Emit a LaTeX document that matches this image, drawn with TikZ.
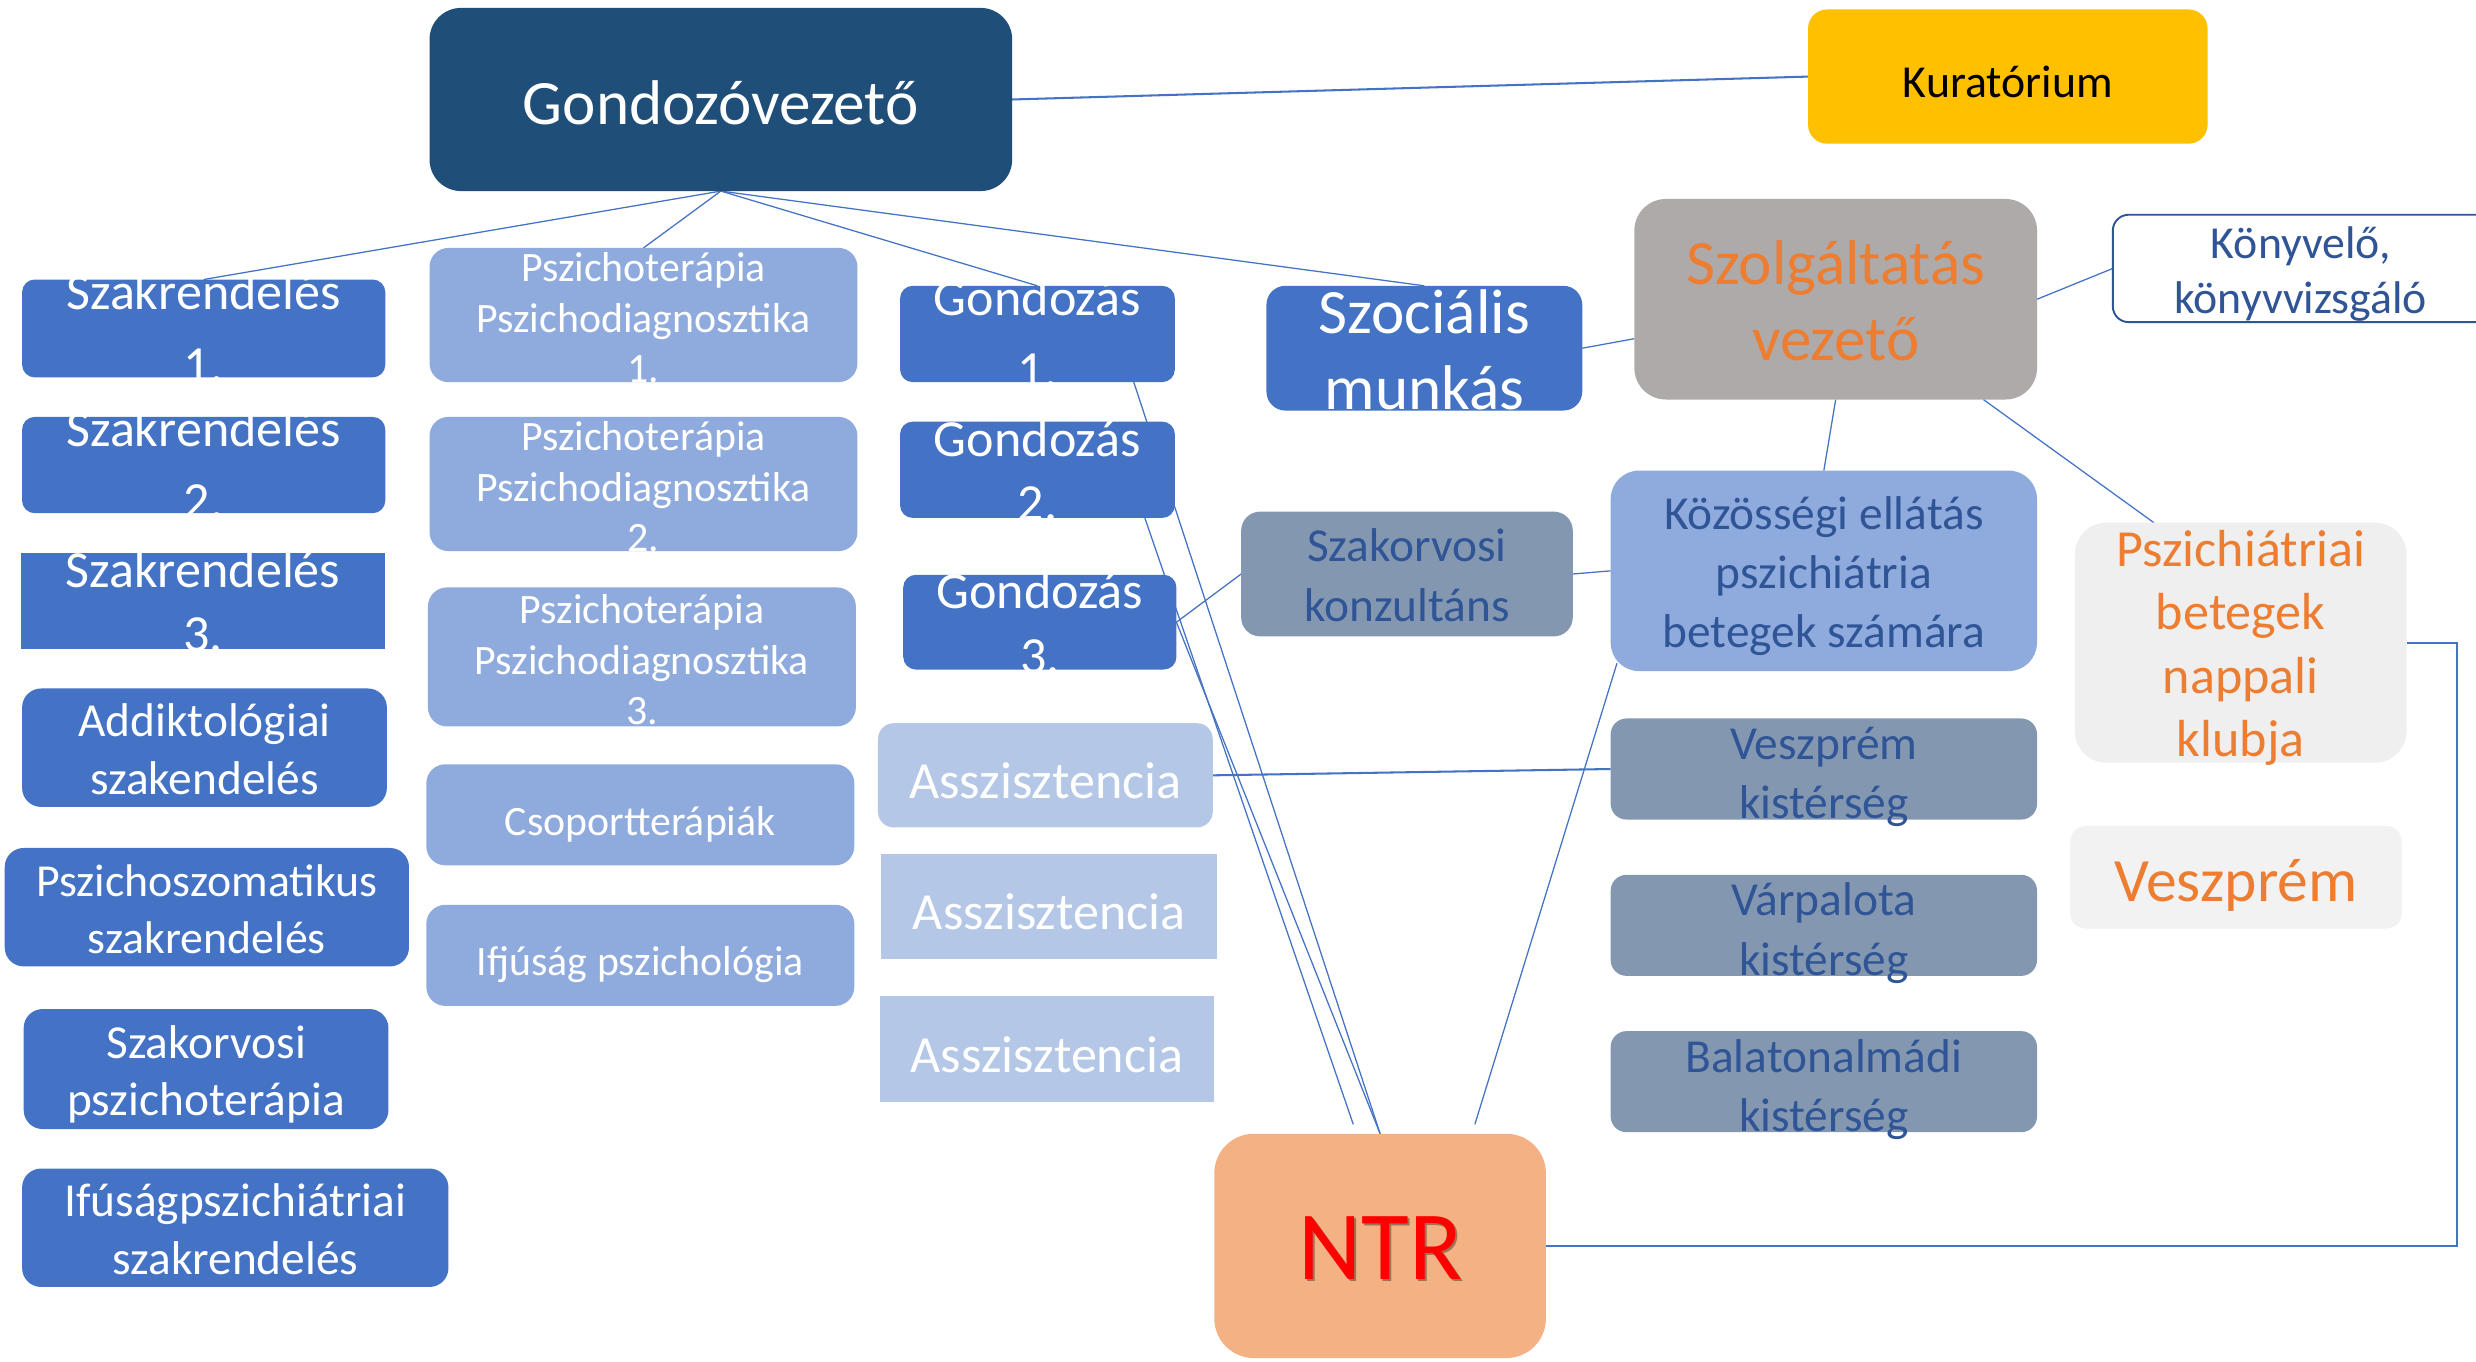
\documentclass[tikz,border=0pt]{standalone}
\usepackage{fontspec}
\setmainfont{Carlito}
\usetikzlibrary{fit,calc,backgrounds}

\definecolor{navy}{HTML}{1F4E79}
\definecolor{midblue}{HTML}{4472C4}
\definecolor{paleblue}{HTML}{8FAADC}
\definecolor{mistblue}{HTML}{B4C7E7}
\definecolor{slate}{HTML}{8497B0}
\definecolor{stone}{HTML}{AEAAAA}
\definecolor{amber}{HTML}{FFC000}
\definecolor{ink}{HTML}{2F5597}
\definecolor{tangerine}{HTML}{ED7D31}
\definecolor{peach}{HTML}{F4B183}
\definecolor{mist}{HTML}{EFEFEF}
\definecolor{mistb}{HTML}{F2F2F2}

\tikzset{
  box/.style={inner sep=0pt, outer sep=0pt, fill=#1},
  lbl/.style={inner sep=0pt, align=center, yshift=-6.5pt,
    execute at begin node=\strut, execute at end node=\strut},
  fs/.style 2 args={font=\fontsize{#1}{#2}\selectfont},
  link/.style={draw=midblue, line width=0.8pt},
  boldlink/.style={draw=midblue, line width=1.3pt},
}

\begin{document}
\begin{tikzpicture}[x=1pt,y=-1pt]
\useasboundingbox (0,0) rectangle (1568,862);

% top level
\node[box=navy, rounded corners=20pt, fit={(272,5)(641,121)}] (gv) {};
\node[lbl, fs={40}{48}, text=white] (gv-t) at (gv.center) {Gondozóvezető};
\node[box=amber, rounded corners=12pt, fit={(1145,6)(1398,91)}] (kur) {};
\node[lbl, fs={29}{35}, text=black] (kur-t) at (kur.center) {Kuratórium};
\node[box=stone, rounded corners=20pt, fit={(1035,126)(1290,253)}] (szv) {};
\node[lbl, fs={40}{48}, text=tangerine, yshift=-1.5pt] (szv-t) at (szv.center) {Szolgáltatás\\vezető};
\node[box=white, draw=ink, line width=1.2pt, rounded corners=10pt, fit={(1338,136)(1585,204)}] (kony) {};
\node[lbl, fs={29}{35}, text=ink] (kony-t) at (1457,170) {Könyvelő,\\könyvvizsgáló};
\node[box=midblue, rounded corners=12pt, fit={(802,181)(1002,260)}] (szoc) {};
\node[lbl, fs={40}{48}, text=white, yshift=-1.5pt] (szoc-t) at (szoc.center) {Szociális\\munkás};

% first column
\node[box=midblue, rounded corners=8pt, fit={(14,177)(244,239)}] (sz1) {};
\node[lbl, fs={33}{46}, text=white] (sz1-t) at (sz1.center) {Szakrendelés\\1.};
\node[box=midblue, rounded corners=8pt, fit={(14,264)(244,325)}] (sz2) {};
\node[lbl, fs={33}{46}, text=white] (sz2-t) at (sz2.center) {Szakrendelés\\2.};
\node[box=midblue, fit={(13,350)(244,411)}] (sz3) {};
\node[lbl, fs={33}{41}, text=white] (sz3-t) at (sz3.center) {Szakrendelés\\3.};
\node[box=midblue, rounded corners=12pt, fit={(14,436)(245,511)}] (add) {};
\node[lbl, fs={30}{36.5}, text=white] (add-t) at (add.center) {Addiktológiai\\szakendelés};
\node[box=midblue, rounded corners=12pt, fit={(3,537)(259,612)}] (psz) {};
\node[lbl, fs={29}{36}, text=white] (psz-t) at (psz.center) {Pszichoszomatikus\\szakrendelés};
\node[box=midblue, rounded corners=12pt, fit={(15,639)(246,715)}] (szp) {};
\node[lbl, fs={30}{36}, text=white] (szp-t) at (szp.center) {Szakorvosi\\pszichoterápia};
\node[box=midblue, rounded corners=12pt, fit={(14,740)(284,815)}] (ifp) {};
\node[lbl, fs={30}{37}, text=white] (ifp-t) at (ifp.center) {Ifúságpszichiátriai\\szakrendelés};

% second column
\node[box=paleblue, rounded corners=12pt, fit={(272,157)(543,242)}] (pp1) {};
\node[lbl, fs={26.5}{32}, text=white] (pp1-t) at (pp1.center) {Pszichoterápia\\Pszichodiagnosztika\\1.};
\node[box=paleblue, rounded corners=12pt, fit={(272,264)(543,349)}] (pp2) {};
\node[lbl, fs={26.5}{32}, text=white] (pp2-t) at (pp2.center) {Pszichoterápia\\Pszichodiagnosztika\\2.};
\node[box=paleblue, rounded corners=12pt, fit={(271,372)(542,460)}] (pp3) {};
\node[lbl, fs={26.5}{32}, text=white] (pp3-t) at (pp3.center) {Pszichoterápia\\Pszichodiagnosztika\\3.};
\node[box=paleblue, rounded corners=12pt, fit={(270,484)(541,548)}] (csop) {};
\node[lbl, fs={26.5}{32}, text=white] (csop-t) at (csop.center) {Csoportterápiák};
\node[box=paleblue, rounded corners=12pt, fit={(270,573)(541,637)}] (ifj) {};
\node[lbl, fs={26.5}{32}, text=white] (ifj-t) at (ifj.center) {Ifjúság pszichológia};

% third column
\node[box=midblue, rounded corners=8pt, fit={(570,181)(744,242)}] (g1) {};
\node[lbl, fs={33}{46}, text=white] (g1-t) at (g1.center) {Gondozás\\1.};
\node[box=midblue, rounded corners=8pt, fit={(570,267)(744,328)}] (g2) {};
\node[lbl, fs={33}{41}, text=white] (g2-t) at (g2.center) {Gondozás\\2.};
\node[box=midblue, rounded corners=8pt, fit={(572,364)(745,424)}] (g3) {};
\node[lbl, fs={33}{41}, text=white] (g3-t) at (g3.center) {Gondozás\\3.};
\node[box=mistblue, rounded corners=10pt, fit={(556,458)(768,524)}] (a1) {};
\node[lbl, fs={33}{40}, text=white] (a1-t) at (a1.center) {Asszisztencia};
\node[box=mistblue, fit={(558,541)(771,607)}] (a2) {};
\node[lbl, fs={33}{40}, text=white] (a2-t) at (a2.center) {Asszisztencia};
\node[box=mistblue, fit={(557,631)(769,698)}] (a3) {};
\node[lbl, fs={33}{40}, text=white] (a3-t) at (a3.center) {Asszisztencia};

% right part
\node[box=slate, rounded corners=12pt, fit={(786,324)(996,403)}] (szk) {};
\node[lbl, fs={30}{38}, text=ink] (szk-t) at (szk.center) {Szakorvosi\\konzultáns};
\node[box=paleblue, rounded corners=18pt, fit={(1020,298)(1290,425)}] (koz) {};
\node[lbl, fs={30}{37.5}, text=ink] (koz-t) at (koz.center) {Közösségi ellátás\\pszichiátria\\betegek számára};
\node[box=slate, rounded corners=10pt, fit={(1020,455)(1290,519)}] (vk) {};
\node[lbl, fs={30}{37.5}, text=ink, yshift=-1.5pt] (vk-t) at (vk.center) {Veszprém\\kistérség};
\node[box=slate, rounded corners=10pt, fit={(1020,554)(1290,618)}] (vpk) {};
\node[lbl, fs={30}{37.5}, text=ink, yshift=-1.5pt] (vpk-t) at (vpk.center) {Várpalota\\kistérség};
\node[box=slate, rounded corners=10pt, fit={(1020,653)(1290,717)}] (bk) {};
\node[lbl, fs={30}{37.5}, text=ink, yshift=-1.5pt] (bk-t) at (bk.center) {Balatonalmádi\\kistérség};
\node[box=mist, rounded corners=20pt, fit={(1314,331)(1524,483)}] (pnk) {};
\node[lbl, fs={33}{40}, text=tangerine] (pnk-t) at (pnk.center) {Pszichiátriai\\betegek\\nappali\\klubja};
\node[box=mistb, rounded corners=10pt, fit={(1311,523)(1521,588)}] (vesz) {};
\node[lbl, fs={39}{46}, text=tangerine] (vesz-t) at (vesz.center) {Veszprém};
\node[box=peach, rounded corners=25pt, fit={(769,718)(979,860)}] (ntr) {};
\node[lbl, fs={62}{74}, text=black, opacity=0.35] (ntr-s) at ($(ntr.center)+(1.5,1.5)$) {NTR};
\node[lbl, fs={62}{74}, text=red] (ntr-t) at (ntr.center) {NTR};

% loose ends of the lines that stop short of NTR
\coordinate (ntr-a) at ($(ntr.north)+(-17,-6)$);
\coordinate (ntr-b) at ($(ntr.north)+(60,-6)$);

\begin{pgfonlayer}{background}
\fill[white] (0,0) rectangle (1568,862);
\draw[boldlink] (gv.east) -- (kur.west);
\draw[link] (gv.south) -- (sz1.north);
\draw[link] (gv.south) -- (pp1.north);
\draw[link] (gv.south) -- (g1.north);
\draw[link] (gv.south) -- (szoc.north);
\draw[link] (szoc.east) -- ($(szv.west)+(0,25)$);
\draw[link] (szv.east) -- (kony.west);
\draw[link] (szv.south) -- (koz.north);
\draw[link] ($(szv.south east)+(-34,0)$) -- ($(pnk.north west)+(50,0)$);
\draw[link] (g3.east) -- (szk.west);
\draw[link] (szk.east) -- (koz.west);
\draw[boldlink] (a1.east) -- (vk.west);
\draw[boldlink] (pnk.east) -- ++(32,0) |- (ntr.east);
\draw[link] ($(g1.south east)+(-26,0)$) -- (ntr.north);
\draw[link] ($(g2.south east)+(-19,0)$) -- (ntr-a);
\draw[link] (g3.east) -- (ntr.north);
\draw[link] ($(koz.south west)+(4,-5)$) -- (ntr-b);
\end{pgfonlayer}
\end{tikzpicture}
\end{document}
